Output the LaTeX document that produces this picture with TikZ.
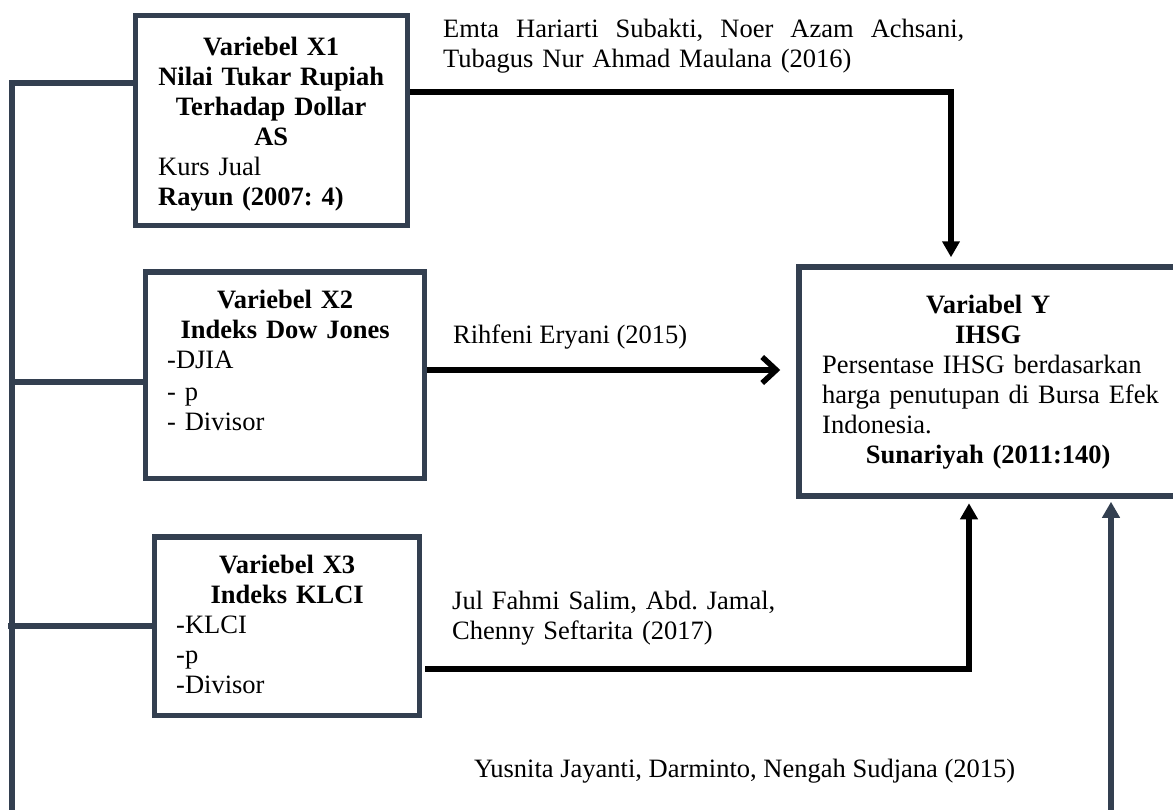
\documentclass[tikz,border=0pt]{standalone}
\usepackage{fontspec}
\setmainfont{Liberation Serif}
\usetikzlibrary{arrows.meta}
\definecolor{slate}{HTML}{333F50}
\newcommand\mystrut{\rule{0pt}{20pt}}
\frenchspacing
\begin{document}
\frenchspacing
\begin{tikzpicture}[x=1pt,y=-1pt,
  box/.style={draw=slate,line width=5.5pt,inner sep=0pt},
  txt/.style={inner sep=0pt,anchor=north west,font=\fontsize{26.5}{30}\selectfont\frenchspacing},
  blk/.style={line width=5.5pt,draw=black},
  bus/.style={line width=5.5pt,draw=slate},
  tri/.style={-{Triangle[length=16pt,width=17pt]}},
]
\useasboundingbox (0,0) rectangle (1173,809);
\fill[white] (0,0) rectangle (1173,809);

% boxes
\node[box,minimum width=272pt,minimum height=210pt] (X1) at (271.5,120.5) {};
\node[box,minimum width=279pt,minimum height=206.5pt] (X2) at (285,375.25) {};
\node[box,minimum width=265pt,minimum height=178.5pt] (X3) at (287,626.25) {};
\node[box,minimum width=378pt,minimum height=229pt] (Y) at (988,381.5) {};

% box texts
\node[txt,text width=226pt] (t1) at (158,35) {\parindent0pt\centering\bfseries\mystrut Variebel X1\\Nilai Tukar Rupiah\\Terhadap Dollar\\AS\par\raggedright\mdseries Kurs Jual\\\textbf{Rayun (2007: 4)}\par};
\node[txt,text width=236pt] (t2) at (167,288) {\parindent0pt\centering\bfseries\mystrut Variebel X2\\Indeks Dow Jones\par\raggedright\mdseries -DJIA\\[2pt]- p\\- Divisor\par};
\node[txt,text width=222pt] (t3) at (176,553) {\parindent0pt\centering\bfseries\mystrut Variebel X3\\Indeks KLCI\par\raggedright\mdseries -KLCI\\-p\\-Divisor\par};
\node[txt,text width=332pt] (ty) at (822,293) {\parindent0pt\centering\bfseries\mystrut Variabel Y\\IHSG\par\raggedright\mdseries \mbox{Persentase IHSG berdasarkan}\\\mbox{harga penutupan di Bursa Efek}\\Indonesia.\par\centering\bfseries Sunariyah (2011:140)\par};

% labels
\node[txt,text width=540pt] (l1) at (443,17) {\parindent0pt\raggedright\mystrut\hbox to 521pt{Emta\hfill Hariarti\hfill Subakti,\hfill Noer\hfill Azam\hfill Achsani,}\\Tubagus Nur Ahmad Maulana (2016)\par};
\node[txt] (l2) at (453,323) {\mystrut Rihfeni Eryani (2015)};
\node[txt,text width=420pt] (l3) at (452,589) {\parindent0pt\raggedright\mystrut Jul Fahmi Salim, Abd. Jamal,\\Chenny Seftarita (2017)\par};
\node[txt] (l4) at (474,757) {\mystrut Yusnita Jayanti, Darminto, Nengah Sudjana (2015)};

% coordinates
\coordinate (bt) at (12,83);
\coordinate (bb) at (12,815);
\coordinate (c2) at (12,382);
\coordinate (c3) at (8,626);
\coordinate (k1) at (951,92);
\coordinate (k2) at (0,370);
\coordinate (k3) at (969,669);
\coordinate (r1) at (1111,815);

% bus
\draw[bus] (X1.west |- bt) -- (bt) -- (bb);
\draw[bus] (c2) -- (c2 -| X2.west);
\draw[bus] (c3) -- (c3 -| X3.west);

% arrows
\draw[blk,tri,shorten >=7pt] (X1.east |- k1) -- (k1) -- (k1 |- Y.north);
\draw[blk,-{Straight Barb[length=14pt,width=26pt]},shorten >=16pt] (X2.east |- k2) -- (Y.west |- k2);
\draw[blk,tri,shorten >=4.5pt,shorten <=3pt] (X3.east |- k3) -- (k3) -- (k3 |- Y.south);
\draw[bus,tri,shorten >=3pt] (r1) -- (r1 |- Y.south);
\end{tikzpicture}
\end{document}
